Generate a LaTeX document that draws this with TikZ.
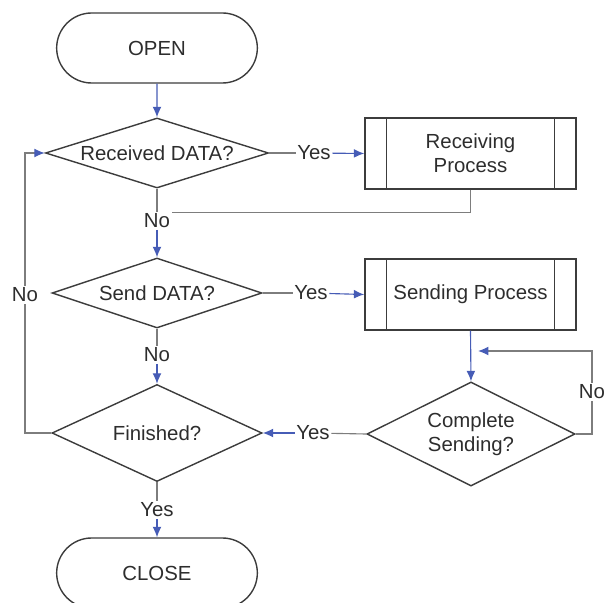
\documentclass[tikz,border=0pt]{standalone}
\usepackage{fontspec}
\setmainfont{Liberation Sans}
\usetikzlibrary{shapes.geometric, shapes.misc, arrows.meta}

\definecolor{linegray}{RGB}{125,125,125}
\definecolor{shapegray}{RGB}{60,60,60}
\definecolor{arrowblue}{RGB}{70,92,182}
\definecolor{textgray}{RGB}{45,45,45}

\begin{document}
\begin{tikzpicture}[x=0.025cm, y=-0.025cm,
  every node/.style={font=\fontsize{14.5}{17}\selectfont, text=textgray},
  terminal/.style={draw=shapegray, line width=1pt, rounded rectangle, minimum width=5.25cm, minimum height=1.75cm},
  decision/.style={draw=shapegray, line width=1pt, diamond, inner sep=0pt, align=center},
  process/.style={draw=shapegray, line width=1pt, rectangle, minimum width=5.275cm, minimum height=1.775cm, align=center},
  lbl/.style={inner sep=1pt},
  line/.style={draw=linegray, line width=0.8pt},
  arrow/.style={draw=arrowblue, line width=0.8pt, -{Latex[length=2.6mm, width=2.2mm]}},
  backarrow/.style={draw=linegray, line width=0.8pt, -{Latex[length=2.6mm, width=2.2mm, color=arrowblue]}}]

\useasboundingbox (0,0) rectangle (605,603);

% Start and end
\node[terminal] (open) at (157,48) {OPEN};
\node[terminal] (close) at (157,573) {CLOSE};

% Questions
\node[decision, minimum width=5.575cm, minimum height=1.75cm, aspect=3.2] (recv) at (157,153) {Received DATA?};
\node[decision, minimum width=5.25cm, minimum height=1.75cm, aspect=3] (send) at (157,293) {Send DATA?};
\node[decision, minimum width=5.25cm, minimum height=2.425cm, aspect=2.16] (fin) at (157,433) {Finished?};
\node[decision, minimum width=5.2cm, minimum height=2.6cm, aspect=2] (done) at (471,434) {Complete\\Sending?};

% Processes
\node[process] (rproc) at (470.5,153.5) {Receiving\\Process};
\node[process] (sproc) at (470.5,294.5) {Sending Process};
\foreach \p in {rproc, sproc} {
  \draw[shapegray, line width=1pt] ([xshift=0.55cm]\p.north west) -- ([xshift=0.55cm]\p.south west);
  \draw[shapegray, line width=1pt] ([xshift=-0.55cm]\p.north east) -- ([xshift=-0.55cm]\p.south east);
}

% Yes / No labels
\node[lbl] (yes1) at (314,153) {Yes};
\node[lbl] (no1) at (157,221) {No};
\node[lbl] (yes2) at (311,293) {Yes};
\node[lbl] (no2) at (157,355) {No};
\node[lbl] (yes3) at (313,433) {Yes};
\node[lbl] (yes4) at (157,510) {Yes};
\node[lbl] (no3) at (25,295) {No};
\node[lbl] (no4) at (592,392) {No};
\coordinate (loop) at (478,351);

% Arrows
\draw[arrow] (open) -- (recv);
\draw[line] (recv.east) -- (yes1);
\draw[arrow] (yes1) -- (rproc.west);
\draw[line] (rproc.south) |- (no1.north east);
\draw[line] (recv.south) -- (no1);
\draw[arrow] (no1) -- (send.north);
\draw[line] (send.east) -- (yes2);
\draw[arrow] (yes2) -- (sproc.west);
\draw[arrow] (sproc.south) -- (done.north);
\draw[line] (done.east) -| (no4);
\draw[backarrow] (no4.north) |- (loop);
\draw[line] (done.west) -- (yes3);
\draw[arrow] (yes3) -- (fin.east);
\draw[line] (send.south) -- (no2);
\draw[arrow] (no2) -- (fin.north);
\draw[line] (fin.west) -| (no3);
\draw[backarrow] (no3) |- (recv.west);
\draw[line] (fin.south) -- (yes4);
\draw[arrow] (yes4) -- (close.north);

\end{tikzpicture}
\end{document}
